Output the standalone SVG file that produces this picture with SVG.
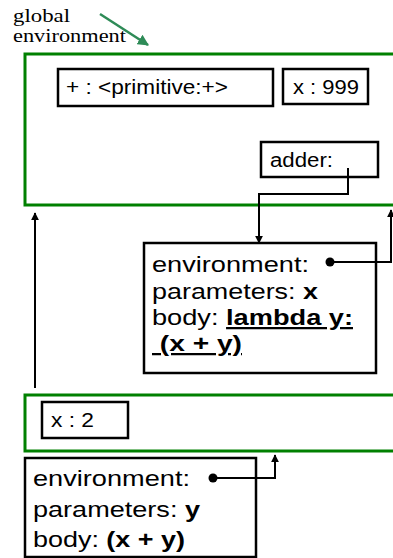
<svg xmlns="http://www.w3.org/2000/svg" width="393" height="558" viewBox="0 0 393 558">
  <style>
    .frame { fill: none; stroke: #008000; stroke-width: 3; }
    .box { fill: #ffffff; stroke: #000000; stroke-width: 2.5; }
    .wire { fill: none; stroke: #000000; stroke-width: 2; }
    .lbl { font-family: "Liberation Sans", Arial, sans-serif; fill: #000000; }
    .small { font-size: 19.5px; }
    .big { font-size: 22.5px; }
    .serif { font-family: "Liberation Serif", "Times New Roman", serif; font-size: 19px; fill: #000000; }
    .b { font-weight: bold; }
    .u { text-decoration: underline; }
  </style>
  <defs>
    <marker id="head" viewBox="0 0 10 10" refX="9" refY="5" markerWidth="4" markerHeight="4" orient="auto" markerUnits="strokeWidth">
      <path d="M0,0 L10,5 L0,10 z" fill="#000000"/>
    </marker>
    <marker id="headGreen" viewBox="0 0 10 10" refX="9" refY="5" markerWidth="4.5" markerHeight="4.5" orient="auto" markerUnits="strokeWidth">
      <path d="M0,0 L10,5 L0,10 z" fill="#2e8b57"/>
    </marker>
  </defs>

  <!-- caption for the global frame -->
  <g id="global-label">
    <text class="serif" x="13" y="22" textLength="57" lengthAdjust="spacingAndGlyphs">global</text>
    <text class="serif" x="13" y="42" textLength="113" lengthAdjust="spacingAndGlyphs">environment</text>
    <line x1="100" y1="14" x2="148" y2="45" stroke="#2e8b57" stroke-width="2.5" marker-end="url(#headGreen)"/>
  </g>

  <!-- global frame -->
  <g id="global-frame">
    <rect class="frame" x="25" y="54" width="380" height="151"/>
  </g>

  <g id="binding-plus">
    <rect class="box" x="58" y="69" width="215" height="37"/>
    <text class="lbl small" x="66" y="94" textLength="162" lengthAdjust="spacingAndGlyphs">+ : &lt;primitive:+&gt;</text>
  </g>

  <g id="binding-x999">
    <rect class="box" x="283" y="69" width="85" height="35"/>
    <text class="lbl small" x="293" y="94" textLength="66" lengthAdjust="spacingAndGlyphs">x : 999</text>
  </g>

  <g id="binding-adder">
    <rect class="box" x="261" y="142" width="117" height="35"/>
    <text class="lbl small" x="270" y="167" textLength="63" lengthAdjust="spacingAndGlyphs">adder:</text>
  </g>

  <!-- procedure object created by def adder -->
  <g id="proc-adder">
    <rect class="box" x="144" y="243" width="232" height="130"/>
    <text class="lbl big" x="152" y="272" textLength="157" lengthAdjust="spacingAndGlyphs">environment:</text>
    <text class="lbl big" x="152" y="299" textLength="166" lengthAdjust="spacingAndGlyphs">parameters: <tspan class="b">x</tspan></text>
    <text class="lbl big" x="152" y="325" textLength="201" lengthAdjust="spacingAndGlyphs">body: <tspan class="b u">lambda y:</tspan></text>
    <text class="lbl big b u" x="152" y="351" textLength="90" lengthAdjust="spacingAndGlyphs" xml:space="preserve"> (x + y)</text>
    <circle cx="330" cy="262" r="4.5" fill="#000000"/>
  </g>

  <!-- frame for the call adder(2) -->
  <g id="call-frame">
    <rect class="frame" x="25" y="395" width="380" height="56"/>
  </g>

  <g id="binding-x2">
    <rect class="box" x="42" y="402" width="86" height="36"/>
    <text class="lbl small" x="51" y="427" textLength="43" lengthAdjust="spacingAndGlyphs">x : 2</text>
  </g>

  <!-- procedure object for the inner lambda -->
  <g id="proc-lambda">
    <rect class="box" x="25" y="458" width="231" height="99"/>
    <text class="lbl big" x="33" y="486" textLength="157" lengthAdjust="spacingAndGlyphs">environment:</text>
    <text class="lbl big" x="33" y="517" textLength="167" lengthAdjust="spacingAndGlyphs">parameters: <tspan class="b">y</tspan></text>
    <text class="lbl big" x="33" y="547" textLength="152" lengthAdjust="spacingAndGlyphs">body: <tspan class="b">(x + y)</tspan></text>
    <circle cx="213" cy="478" r="4.5" fill="#000000"/>
  </g>

  <!-- pointers -->
  <g id="connectors">
    <polyline class="wire" points="348,168 348,194 259,194 259,243" marker-end="url(#head)"/>
    <polyline class="wire" points="330,262 391,262 391,210" marker-end="url(#head)"/>
    <line class="wire" x1="35" y1="388" x2="35" y2="213" marker-end="url(#head)"/>
    <polyline class="wire" points="213,478 275,478 275,455" marker-end="url(#head)"/>
  </g>
</svg>
